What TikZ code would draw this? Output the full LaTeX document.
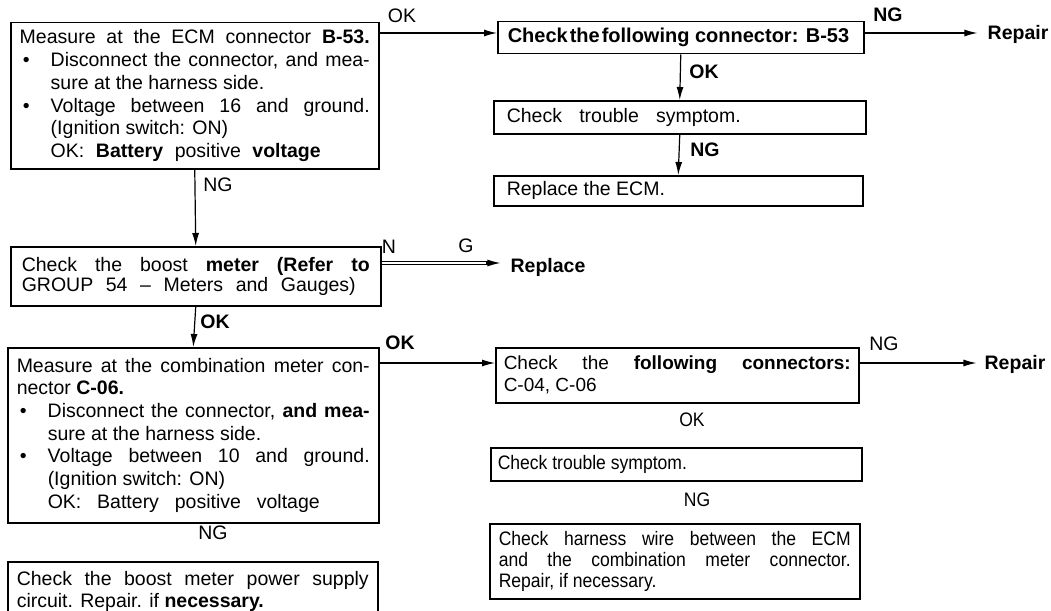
\documentclass[tikz,border=0pt]{standalone}
\usepackage{fontspec}
\setmainfont{Liberation Sans}
\newfontfamily\narrowf{Liberation Sans}[FakeStretch=0.9]
\usetikzlibrary{arrows.meta}

\newcommand{\msz}{\fontsize{19.5}{22.7}\selectfont}
\newcommand{\nsz}{\narrowf\fontsize{19.5}{21}\selectfont}
\newcommand{\Jl}[1]{\hbox to\linewidth{#1}}
\newcommand{\Rg}[1]{\hbox to\linewidth{#1\hfil}}
\newcommand{\Wd}[2]{\hbox to #1{#2}}
\newcommand{\Bu}{\makebox[31pt][l]{\hspace{3pt}\textbullet}}
\newcommand{\Ind}{\hspace*{31pt}}

\tikzset{
  box/.style={draw, line width=1.5pt, anchor=north west, inner sep=0pt, font=\msz},
  arr/.style={line width=1.2pt, -{Latex[length=13pt,width=7pt]}},
  dbl/.style={line width=1pt, double, double distance=2.4pt},
  lab/.style={inner sep=0pt, font=\msz},
  blab/.style={inner sep=0pt, font=\msz\bfseries},
  nlab/.style={inner sep=0pt, font=\nsz},
}

\begin{document}
\begin{tikzpicture}[x=1pt,y=-1pt]
\path[use as bounding box] (0,0) rectangle (1051,610);

% ---- left column ----
\node[box, minimum width=368pt, minimum height=146pt] (b1) at (10,22) {\parbox{350pt}{%
\Jl{Measure at the ECM connector \textbf{B-53.}}
\Jl{\Bu Disconnect the connector, and mea-}
\Rg{\Ind sure at the harness side.}
\Jl{\Bu Voltage between 16 and ground.}
\Rg{\Ind (Ignition switch: ON)}
\Rg{\Ind\Wd{270pt}{OK: \textbf{Battery} positive \textbf{voltage}}}}};

\node[box, minimum width=370pt, minimum height=59pt] (b5) at (10,246) {\fontsize{19.5}{20}\selectfont\parbox{348pt}{%
\Jl{Check the boost \textbf{meter (Refer to}}
\Rg{\Wd{334pt}{GROUP 54 – Meters and Gauges)}}}};

\node[box, minimum width=371pt, minimum height=175pt] (b6) at (7,347) {\parbox{353pt}{%
\Jl{Measure at the combination meter con-}
\Rg{nector \textbf{C-06.}}
\Jl{\Bu Disconnect the connector, \textbf{and mea-}}
\Rg{\Ind sure at the harness side.}
\Jl{\Bu Voltage between 10 and ground.}
\Rg{\Ind (Ignition switch: ON)}
\Rg{\Ind\Wd{272pt}{OK: Battery positive voltage}}}};

\node[box, minimum width=370pt, minimum height=60pt] (b10) at (7,561) {\fontsize{19.5}{22}\selectfont\parbox{352pt}{%
\Jl{Check the boost meter power supply}
\Rg{circuit. Repair. if \textbf{necessary.}}}};

% ---- right column, top ----
\node[box, minimum width=366pt, minimum height=32pt] (b2) at (497,21) {\parbox{346pt}{%
\Rg{\fontsize{20}{22}\selectfont\bfseries Check\hspace{2pt}the\hspace{2pt}following connector: B-53}}};

\node[box, minimum width=372pt, minimum height=33pt] (b3) at (493,100) {\parbox{346pt}{%
\Rg{\Wd{234pt}{Check trouble symptom.}}}};

\node[box, minimum width=369pt, minimum height=30pt] (b4) at (493,175) {\parbox{343pt}{%
\Rg{Replace the ECM.}}};

% ---- right column, bottom ----
\node[box, minimum width=363pt, minimum height=55pt] (b7) at (495,347) {\fontsize{19}{22}\selectfont\parbox{347pt}{%
\Jl{Check the \textbf{following connectors:}}
\Rg{C-04, C-06}}};

\node[box, minimum width=371pt, minimum height=33pt] (b8) at (490,447) {\nsz\parbox{357pt}{%
\Rg{Check trouble symptom.}}};

\node[box, minimum width=370pt, minimum height=75pt] (b9) at (489,523) {\nsz\parbox{352pt}{%
\Jl{Check harness wire between the ECM}
\Jl{and the combination meter connector.}
\Rg{Repair, if necessary.}}};

% ---- free labels ----
\node[lab]  (ok1)  at (402,16)  {OK};
\node[blab] (ng1)  at (888,15)  {NG};
\node[blab] (rep1) at (1018,34) {Repair};
\node[blab] (ok2)  at (704,72)  {OK};
\node[blab] (ng2)  at (705,150) {NG};
\node[lab]  (ng3)  at (218,185) {NG};
\node[lab]  (lN)   at (389,247) {N};
\node[lab]  (lG)   at (466,246) {G};
\node[blab] (rep2) at (548,267) {Replace};
\node[blab] (ok3)  at (215,322) {OK};
\node[blab] (ok4)  at (400,343) {OK};
\node[lab]  (ng4)  at (884,344) {NG};
\node[blab] (rep3) at (1015,364) {Repair};
\node[nlab] (ok5)  at (692,420) {OK};
\node[nlab] (ng5)  at (697,500) {NG};
\node[lab]  (ng6)  at (213,533) {NG};

% ---- connectors ----
\draw[arr] ([yshift=-11pt]b1.north east) coordinate (c1) -- (c1 -| b2.west);
\draw[arr] ([yshift=-12pt]b2.north east) coordinate (c2) -- ([xshift=-10pt]c2 -| rep1.west);
\draw[arr] (b2.south) -- (b3.north);
\draw[arr] (b3.south) -- (b4.north);
\draw[arr] (b1.south) -- (b5.north);
\draw[dbl] ([yshift=-17pt]b5.north east) coordinate (c5) -- ([xshift=-20pt]c5 -| rep2.west);
\draw[arr] ([xshift=-24pt]c5 -| rep2.west) -- ([xshift=-10pt]c5 -| rep2.west);
\draw[arr] (b5.south) -- (b6.north);
\draw[arr] ([yshift=-16pt]b6.north east) coordinate (c8) -- (c8 -| b7.west);
\draw[arr] (c8 -| b7.east) -- ([xshift=-8pt]c8 -| rep3.west);
\end{tikzpicture}
\end{document}
